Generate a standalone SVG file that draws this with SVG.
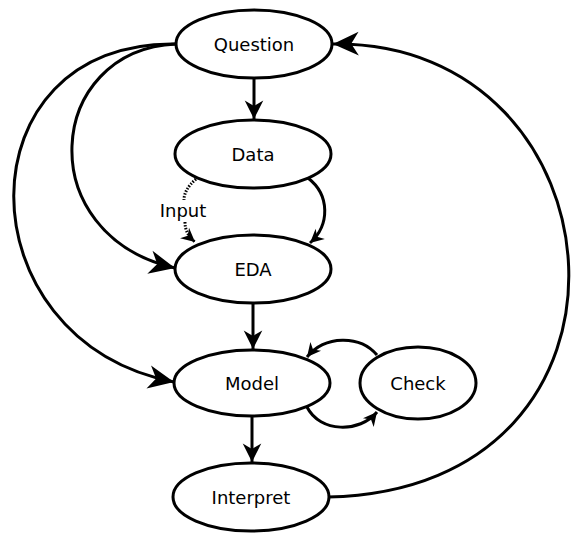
<svg xmlns="http://www.w3.org/2000/svg" width="576" height="533" viewBox="0 0 576 533">
<style>
.node ellipse{fill:#fff;stroke:#000;stroke-width:3}
.node text{font-family:"DejaVu Sans",sans-serif;font-size:18px;fill:#000;text-anchor:middle}
.edge{fill:none;stroke:#000;stroke-width:3}
.dot{stroke-dasharray:1.5,1.5}
.lbl{font-family:"DejaVu Sans",sans-serif;font-size:18px;fill:#000;text-anchor:middle}
</style>
<defs>
<marker id="big" markerUnits="userSpaceOnUse" markerWidth="30" markerHeight="30" viewBox="-26 -13 28 26" refX="0" refY="0" orient="auto">
<path d="M0,0 L-24,-11 L-17,0 L-24,11 Z" fill="#000"/>
</marker>
<marker id="med" markerUnits="userSpaceOnUse" markerWidth="24" markerHeight="24" viewBox="-20 -10 22 20" refX="0" refY="0" orient="auto">
<path d="M0,0 L-17,-8.5 L-12,0 L-17,8.5 Z" fill="#000"/>
</marker>
<marker id="sm" markerUnits="userSpaceOnUse" markerWidth="18" markerHeight="18" viewBox="-15 -8 17 16" refX="0" refY="0" orient="auto">
<path d="M0,0 L-13,-6.5 L-9,0 L-13,6.5 Z" fill="#000"/>
</marker>
</defs>
<g id="connectors">
<path class="edge" d="M254,78 L254,119" marker-end="url(#med)"/>
<path class="edge" d="M308,178 C330,195 330,225 310,243" marker-end="url(#sm)"/>
<path class="edge dot" d="M196,179 C188,186 184,193 184,200"/>
<path class="edge dot" d="M185,222 C185,230 188,236 195,242" marker-end="url(#sm)"/>
<path class="edge" d="M176,44 C45,50 30,235 175,268" marker-end="url(#big)"/>
<path class="edge" d="M176,44 C-40,40 -40,340 174,382" marker-end="url(#big)"/>
<path class="edge" d="M253,303 L253,349" marker-end="url(#med)"/>
<path class="edge" d="M252,416 L252,462" marker-end="url(#med)"/>
<path class="edge" d="M307,407 C320,433 360,433 377,412" marker-end="url(#sm)"/>
<path class="edge" d="M377,355 C360,335 325,335 307,357" marker-end="url(#sm)"/>
<path class="edge" d="M328,497 C668,490 628,40 333,44" marker-end="url(#big)"/>
<text class="lbl" x="183" y="217">Input</text>
</g>
<g id="question" class="node"><ellipse cx="254" cy="44" rx="78" ry="34"/><text x="254" y="50.5">Question</text></g>
<g id="data" class="node"><ellipse cx="253" cy="154" rx="78" ry="34"/><text x="253" y="160.5">Data</text></g>
<g id="eda" class="node"><ellipse cx="253" cy="269" rx="78" ry="34"/><text x="253" y="275.5">EDA</text></g>
<g id="model" class="node"><ellipse cx="252" cy="383" rx="78" ry="33"/><text x="252" y="389.5">Model</text></g>
<g id="check" class="node"><ellipse cx="418" cy="383" rx="58" ry="36"/><text x="418" y="389.5">Check</text></g>
<g id="interpret" class="node"><ellipse cx="251" cy="497" rx="78" ry="34"/><text x="251" y="503.5">Interpret</text></g>
</svg>
